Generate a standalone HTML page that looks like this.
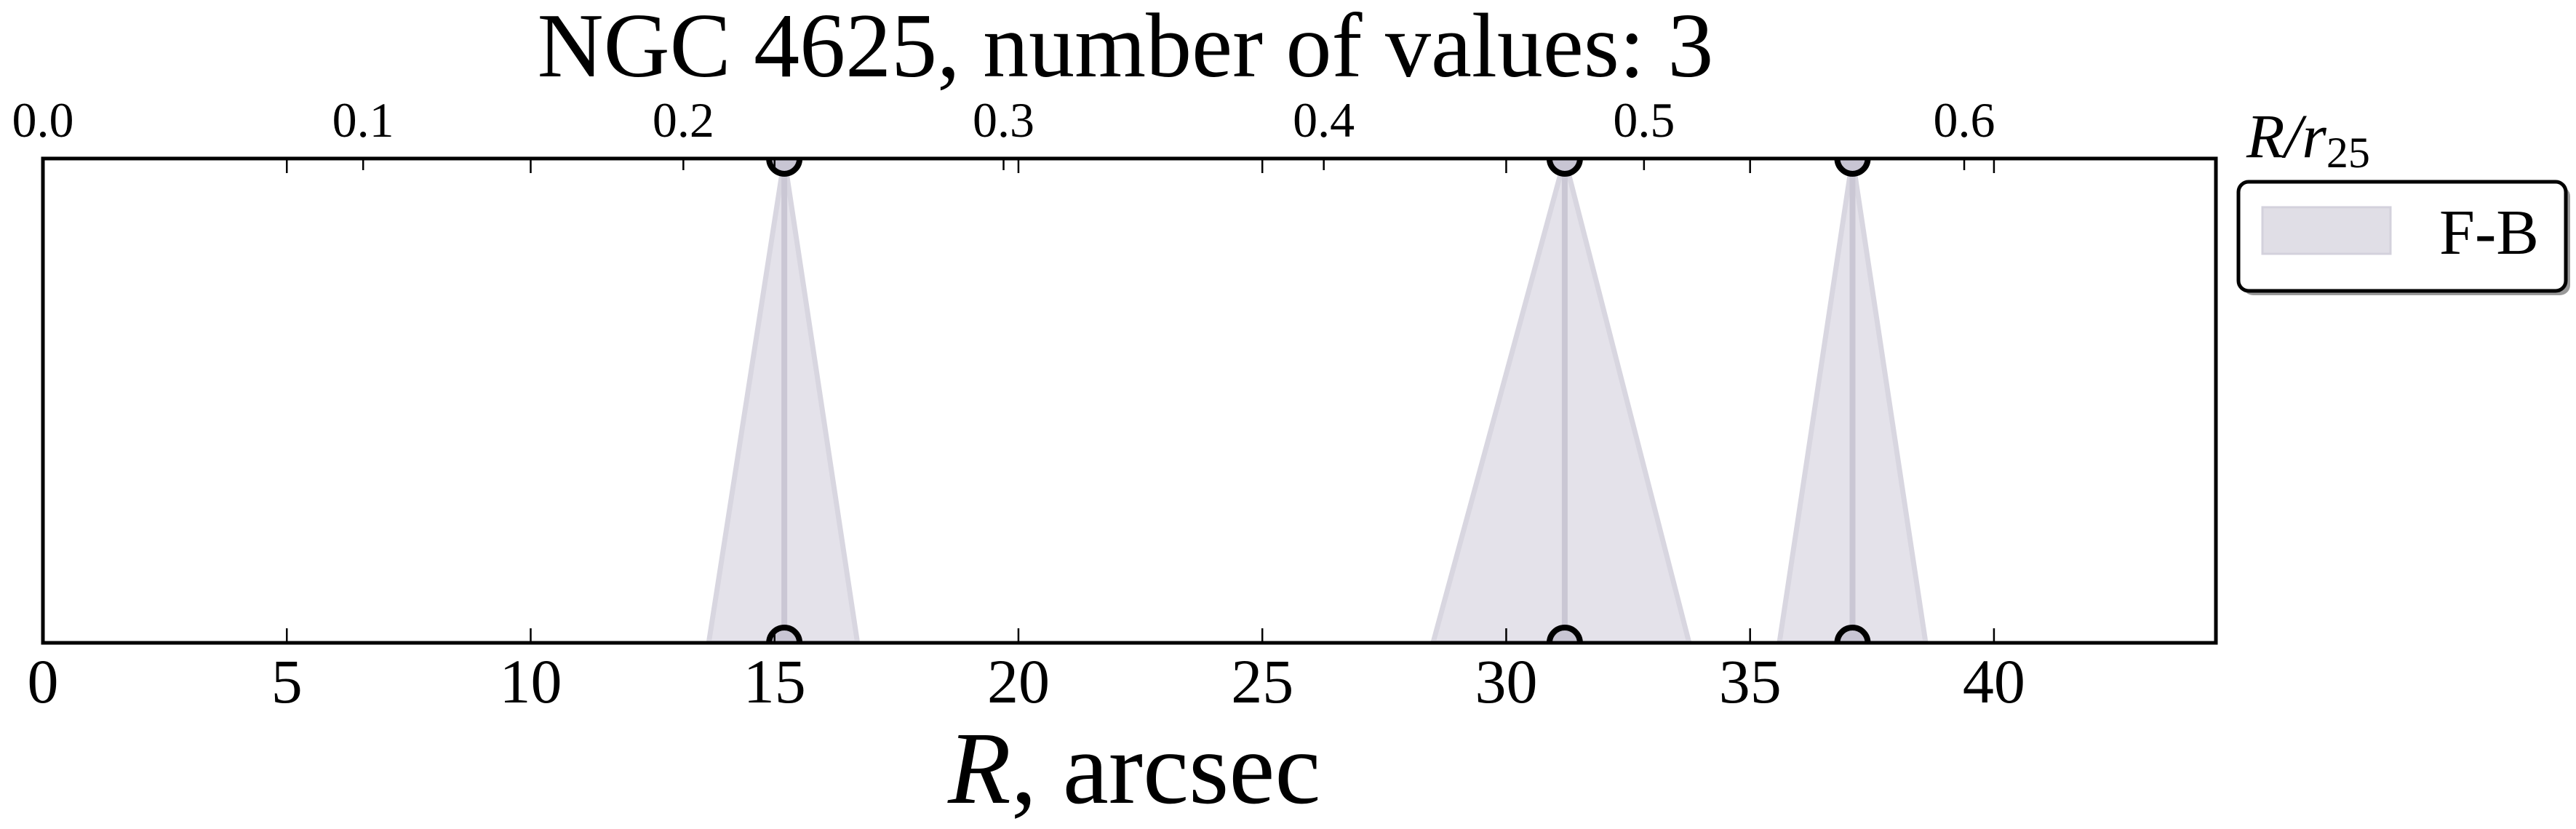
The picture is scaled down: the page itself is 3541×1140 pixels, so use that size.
<!DOCTYPE html>
<html><head><meta charset="utf-8"><style>
html,body{margin:0;padding:0;background:#fff;}
svg{display:block;}
svg text{font-family:"Liberation Serif","DejaVu Serif",serif;}
</style></head><body>
<svg id="chart" width="3541" height="1140" viewBox="0 0 3541 1140" xmlns="http://www.w3.org/2000/svg" font-family="Liberation Serif, DejaVu Serif, serif">
<text x="1547" y="105" font-size="126" text-anchor="middle" font-family="Liberation Serif, serif">NGC 4625, number of values: 3</text>
<g id="plot"></g>
<text x="1303" y="1104" font-size="142" font-family="Liberation Serif, serif"><tspan font-style="italic">R</tspan>, arcsec</text>
<text x="3088" y="216" font-size="86" font-style="italic" font-family="Liberation Serif, serif">R/r<tspan font-size="60" dy="14" font-style="normal">25</tspan></text>
<g>
<rect x="3083" y="256" width="450" height="150" rx="14" fill="#999"/>
<rect x="3077" y="250" width="450" height="150" rx="14" fill="#fff" stroke="#000" stroke-width="5"/>
<rect x="3110" y="285" width="176" height="64" fill="#e0dee6" stroke="#d3d1dc" stroke-width="3"/>
<text x="3353" y="349" font-size="88" font-family="Liberation Serif, serif">F-B</text>
</g>
</svg>
<script>
const xTicks = [0,5,10,15,20,25,30,35,40];
const topTicks = [0.0,0.1,0.2,0.3,0.4,0.5,0.6];
const topTickLabels = ["0.0","0.1","0.2","0.3","0.4","0.5","0.6"];
const pointR = [15.2, 31.2, 37.1];
const spanLow = [13.65, 28.5, 35.6];
const spanHigh = [16.7, 33.75, 38.6];
const r25 = 65.65;

const L=59, R=3046, T=218, B=884, xMin=0, xMax=44.55;
const sx = v => L + (v - xMin) / (xMax - xMin) * (R - L);
const sTop = v => sx(v * r25);
const NS="http://www.w3.org/2000/svg";
const g=document.getElementById('plot');
function mk(tag, attrs){const e=document.createElementNS(NS,tag);for(const k in attrs)e.setAttribute(k,attrs[k]);g.appendChild(e);return e;}

const clip=document.createElementNS(NS,'clipPath');clip.setAttribute('id','axclip');
const cr=document.createElementNS(NS,'rect');cr.setAttribute('x',L);cr.setAttribute('y',T);cr.setAttribute('width',R-L);cr.setAttribute('height',B-T);
clip.appendChild(cr);g.appendChild(clip);
const inner=mk('g',{'clip-path':'url(#axclip)'});



for(let i=0;i<pointR.length;i++){
  const p=document.createElementNS(NS,'polygon');
  p.setAttribute('points',`${sx(pointR[i])},${T} ${sx(spanLow[i])},${B} ${sx(spanHigh[i])},${B}`);
  p.setAttribute('fill','#e4e2ea');p.setAttribute('stroke','#d8d6e0');p.setAttribute('stroke-width','7');
  
  
  inner.appendChild(p);
  const ln=document.createElementNS(NS,'line');
  ln.setAttribute('x1',sx(pointR[i]));ln.setAttribute('x2',sx(pointR[i]));ln.setAttribute('y1',T);ln.setAttribute('y2',B);
  ln.setAttribute('stroke','#cac7d4');ln.setAttribute('stroke-width','8');
  
  
  inner.appendChild(ln);
  for(const y of [T,B]){
    const c=document.createElementNS(NS,'circle');
    c.setAttribute('cx',sx(pointR[i]));c.setAttribute('cy',y);c.setAttribute('r','21');
    c.setAttribute('fill','#c8c5d3');c.setAttribute('stroke','#000');c.setAttribute('stroke-width','8');
    
    
    inner.appendChild(c);
  }
}

xTicks.forEach(v=>{
  const x=sx(v);
  const t1=mk('line',{x1:x,x2:x,y1:B,y2:B-20,stroke:'#000','stroke-width':2.5});
  
  
  const t2=mk('line',{x1:x,x2:x,y1:T,y2:T+20,stroke:'#000','stroke-width':2.5});
  
  
  const tx=mk('text',{x:x,y:966,'font-size':86,'text-anchor':'middle','font-family':'Liberation Serif, serif'});
  tx.textContent=String(v);
  
  
});
topTicks.forEach((v,i)=>{
  const x=sTop(v);
  const t=mk('line',{x1:x,x2:x,y1:T,y2:T+16,stroke:'#000','stroke-width':2.5});
  
  
  const tx=mk('text',{x:x,y:188,'font-size':68,'text-anchor':'middle','font-family':'Liberation Serif, serif'});
  tx.textContent=topTickLabels[i];
  
  
});
const fr=mk('rect',{x:L,y:T,width:R-L,height:B-T,fill:'none',stroke:'#000','stroke-width':5});


</script>
</body></html>
